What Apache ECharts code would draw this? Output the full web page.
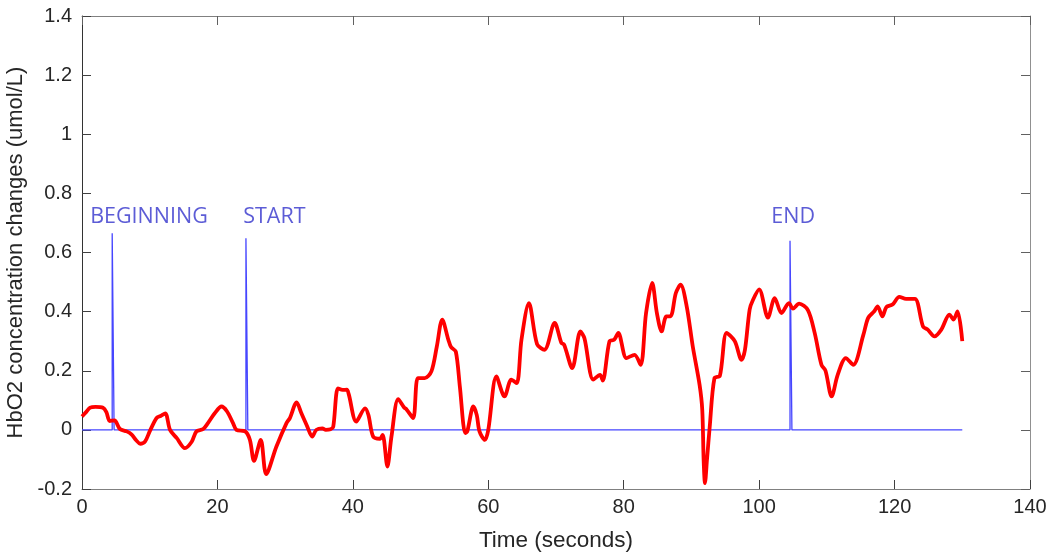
<!DOCTYPE html>
<html>
<head>
<meta charset="utf-8">
<script src="https://cdn.jsdelivr.net/npm/echarts@6/dist/echarts.min.js"></script>
<style>
  html, body { margin: 0; padding: 0; background: #fff; }
  #chart { width: 1049px; height: 553px; }
</style>
</head>
<body>
<div id="chart"></div>
<script>
// HbO2 concentration change over time (seconds, umol/L)
const timeSec = [0.0,0.6,1.2,2.0,3.1,3.6,4.1,4.8,5.6,6.6,7.3,8.0,8.6,9.3,10.0,11.0,11.6,12.3,13.0,14.0,15.2,16.2,16.9,17.9,18.6,19.6,20.6,21.4,22.3,22.8,24.1,24.8,25.4,26.4,27.2,28.7,30.2,30.7,31.7,32.4,33.2,34.0,34.6,35.5,36.0,36.7,37.1,37.8,38.5,39.1,39.4,40.5,41.8,42.3,43.0,44.0,44.4,45.1,45.7,46.7,47.6,47.9,48.9,49.6,50.6,51.6,52.4,53.2,54.1,54.5,55.2,55.8,56.6,56.9,57.8,58.3,58.7,59.5,60.0,61.2,62.4,63.4,64.2,64.9,66.0,67.2,68.3,69.8,70.8,71.2,72.4,73.6,74.2,75.5,76.5,76.9,77.9,78.6,79.2,80.4,81.6,82.5,83.3,84.2,84.9,85.6,86.3,86.9,87.7,88.4,89.3,90.2,91.2,91.6,91.8,92.0,92.3,92.7,93.4,94.2,95.2,96.4,97.4,97.9,98.6,99.1,100.0,101.3,102.3,103.3,104.4,105.0,105.9,107.2,108.2,109.2,109.8,110.7,111.6,112.8,113.9,115.4,116.1,117.0,117.5,118.2,118.8,119.7,120.7,121.7,123.0,124.2,124.9,125.9,126.9,128.1,128.7,129.3,130.0];
const hbo2 = [0.045,0.06,0.075,0.078,0.075,0.06,0.03,0.032,0.003,-0.005,-0.015,-0.035,-0.047,-0.04,-0.005,0.04,0.047,0.056,0.0,-0.028,-0.062,-0.04,-0.005,0.003,0.023,0.056,0.079,0.063,0.023,0.0,-0.005,-0.034,-0.105,-0.034,-0.15,-0.057,0.023,0.04,0.093,0.056,0.015,-0.023,0.0,0.005,0.0,0.002,0.01,0.14,0.135,0.136,0.12,0.028,0.073,0.05,-0.023,-0.03,-0.017,-0.124,-0.023,0.104,0.075,0.07,0.04,0.175,0.175,0.198,0.282,0.373,0.305,0.28,0.265,0.147,-0.011,-0.005,0.079,0.05,-0.005,-0.034,0.0,0.181,0.113,0.17,0.158,0.305,0.429,0.29,0.271,0.362,0.294,0.288,0.209,0.333,0.31,0.17,0.186,0.167,0.3,0.305,0.328,0.243,0.254,0.22,0.395,0.497,0.395,0.333,0.384,0.384,0.463,0.491,0.418,0.282,0.153,0.068,-0.1,-0.18,-0.1,0.01,0.175,0.183,0.328,0.3,0.237,0.27,0.407,0.44,0.475,0.38,0.446,0.395,0.429,0.41,0.427,0.405,0.328,0.22,0.2,0.113,0.186,0.243,0.22,0.322,0.379,0.401,0.418,0.384,0.416,0.424,0.45,0.443,0.443,0.35,0.339,0.316,0.339,0.39,0.373,0.401,0.3];

// Event markers: time of each pulse, its height, its caption and where the caption sits
const eventTimes = [4.6, 24.35, 104.7];
const eventHeights = [0.665, 0.648, 0.64];
const eventLabels = ['BEGINNING', 'START', 'END'];
const labelTimes = [1.2, 23.8, 101.8];
const labelLevel = 0.72;
const markerEnd = 130;

// Axis ticks
const xTicks = [0, 20, 40, 60, 80, 100, 120, 140];
const yTicks = [-0.2, 0, 0.2, 0.4, 0.6, 0.8, 1.0, 1.2, 1.4];

const curve = timeSec.map((t, i) => [t, hbo2[i]]);

// Baseline at zero with a narrow pulse at each event time
const pulseHalf = 0.14;
const markerTrace = [[0, 0]];
eventTimes.forEach((t, i) => {
  markerTrace.push([t - pulseHalf, 0], [t - pulseHalf, eventHeights[i]],
                   [t + pulseHalf, eventHeights[i]], [t + pulseHalf, 0]);
});
markerTrace.push([markerEnd, 0]);

const eventCaptions = labelTimes.map((t, i) => ({ value: [t, labelLevel], name: eventLabels[i] }));

const fmt = v => String(Math.round(v * 10) / 10);
const axisFont = { fontFamily: 'Liberation Sans, Arial, sans-serif', fontSize: 20, color: '#262626' };
const tickStyle = (c) => ({ show: true, inside: true, length: 9, lineStyle: { color: c, width: 1 } });

const chart = echarts.init(document.getElementById('chart'), null, { renderer: 'canvas' });
chart.setOption({
  animation: false,
  backgroundColor: '#ffffff',
  grid: { left: 82, right: 19, top: 16, bottom: 64, containLabel: false, outerBoundsMode: 'none' },
  xAxis: [{
    type: 'value', min: xTicks[0], max: xTicks[xTicks.length - 1], interval: 20,
    position: 'bottom',
    name: 'Time (seconds)', nameLocation: 'middle', nameGap: 40,
    nameTextStyle: { fontFamily: 'Liberation Sans, Arial, sans-serif', fontSize: 22.5, color: '#262626' },
    axisLine: { show: true, onZero: false, lineStyle: { color: '#808080', width: 1 } },
    axisTick: tickStyle('#404040'),
    axisLabel: Object.assign({ margin: 8, formatter: fmt }, axisFont),
    splitLine: { show: false }
  }, {
    type: 'value', min: xTicks[0], max: xTicks[xTicks.length - 1], interval: 20,
    position: 'top',
    axisLine: { show: true, onZero: false, lineStyle: { color: '#808080', width: 1 } },
    axisTick: tickStyle('#606060'),
    axisLabel: { show: false },
    splitLine: { show: false }
  }],
  yAxis: [{
    type: 'value', min: yTicks[0], max: yTicks[yTicks.length - 1], interval: 0.2,
    position: 'left',
    name: 'HbO2 concentration changes (umol/L)', nameLocation: 'middle', nameGap: 46,
    nameTextStyle: { fontFamily: 'Liberation Sans, Arial, sans-serif', fontSize: 22, color: '#262626' },
    axisLine: { show: true, onZero: false, lineStyle: { color: '#333333', width: 1 } },
    axisTick: tickStyle('#404040'),
    axisLabel: Object.assign({ margin: 10, formatter: fmt }, axisFont),
    splitLine: { show: false }
  }, {
    type: 'value', min: yTicks[0], max: yTicks[yTicks.length - 1], interval: 0.2,
    position: 'right',
    axisLine: { show: true, onZero: false, lineStyle: { color: '#909090', width: 1 } },
    axisTick: tickStyle('#606060'),
    axisLabel: { show: false },
    splitLine: { show: false }
  }],
  series: [{
    type: 'line',
    data: markerTrace,
    showSymbol: false,
    lineStyle: { color: '#4646ff', width: 1.3 },
    z: 2
  }, {
    type: 'line',
    data: curve,
    showSymbol: false,
    smooth: 0.3,
    lineStyle: { color: '#ff0000', width: 3.8 },
    z: 3
  }, {
    type: 'scatter',
    data: eventCaptions,
    symbolSize: 0,
    label: {
      show: true, position: 'right', distance: 0,
      formatter: p => p.name,
      fontFamily: 'Open Sans, Noto Sans, sans-serif', fontSize: 21.5, color: '#3333cc'
    },
    z: 4
  }]
});
</script>
</body>
</html>
